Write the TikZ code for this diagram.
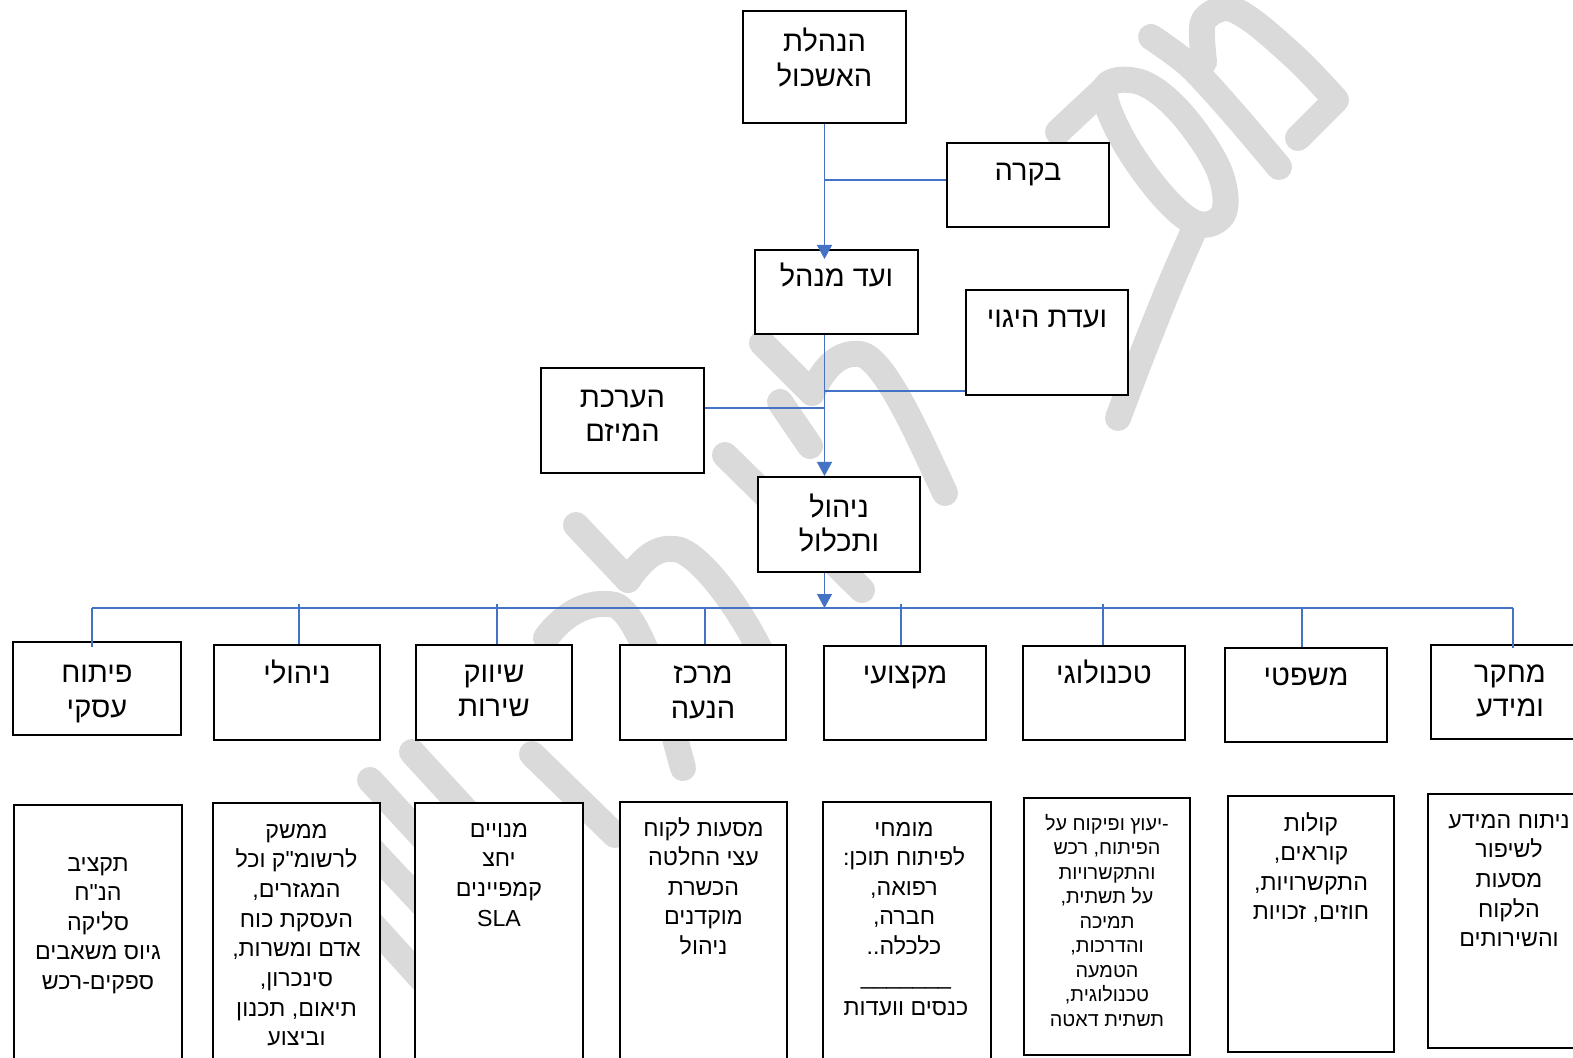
\documentclass[tikz,border=0pt]{standalone}
\usepackage{fontspec}
\newfontfamily\heb[Script=Hebrew]{Liberation Sans}
\TeXXeTstate=1
\usetikzlibrary{arrows.meta,calc}
\definecolor{conn}{RGB}{68,114,196}
\definecolor{wmgray}{RGB}{218,218,218}
\tikzset{
  box/.style={draw=black, line width=1pt, fill=white, inner sep=0pt},
  lbl/.style={font={\heb\fontsize{14.5}{17}\selectfont}, anchor=base, inner sep=0pt},
  sml/.style={font={\heb\fontsize{11.6}{14}\selectfont}, anchor=base, inner sep=0pt},
  tny/.style={font={\heb\fontsize{9.9}{12}\selectfont}, anchor=base, inner sep=0pt},
  wire/.style={draw=conn, line width=0.6pt},
  arr/.style={wire, -{Triangle[width=7.5pt,length=7pt]}},
  wm/.style={draw=wmgray, line width=13pt, line cap=round, line join=round},
}
\newcommand\obox[5]{\node[box, minimum width={(#4-#2)*0.5pt}, minimum height={(#5-#3)*0.5pt}] (#1) at ({(#2+#4)/2},{(#3+#5)/2}) {};}
\newcommand\htext[6][lbl]{\foreach \ln [count=\i from 0] in {#6} {\node[#1] (#2\i) at ({#3},{#4+\i*#5}) {\ln};}}
\begin{document}
\begin{tikzpicture}[x=0.5pt,y=-0.5pt]
\useasboundingbox (0,0) rectangle (1573,1058);
\clip (0,0) rectangle (1573,1058);
\fill[white] (0,0) rectangle (1573,1058);
% watermark (behind everything)
\draw[wm] plot[smooth, tension=0.5] coordinates {(1151,37) (1190,66) (1235,115) (1279,167)};
\draw[wm] plot[smooth, tension=0.5] coordinates {(1204,62) (1203,22) (1226,8) (1254,22) (1300,62) (1336,100)} -- (1298,138);
\draw[wm] plot[smooth cycle, tension=0.6] coordinates {(1105,88) (1140,82) (1180,112) (1218,168) (1224,212) (1198,224) (1162,195) (1122,138)};
\draw[wm] (1058,132) -- (1105,88);
\draw[wm] plot[smooth, tension=0.5] coordinates {(1195,228) (1170,285) (1140,360) (1118,418)};
\draw[wm] (762,343) -- (812,393) .. controls (825,365) and (840,352) .. (860,354) .. controls (885,358) and (920,440) .. (945,493);
\draw[wm] (780,402) -- (810,446);
\draw[wm] (725,455) -- (862,590);
\draw[wm] (576,525) -- (628,580) .. controls (645,555) and (660,545) .. (680,550) .. controls (705,560) and (740,610) .. (760,650);
\draw[wm] (546,638) .. controls (565,612) and (590,600) .. (615,605) .. controls (640,615) and (665,700) .. (683,768);
\draw[wm] (412,752) -- (470,815);
\draw[wm] (532,754) -- (615,835);
\draw[wm] (370,780) -- (430,845);
\draw[wm] (370,848) -- (430,912);
\draw[wm] (370,922) -- (430,988);
% boxes
\obox{hn}{743}{11}{906}{123}
\obox{bk}{947}{143}{1109}{227}
\obox{vm}{755}{250}{918}{334}
\obox{vh}{966}{290}{1128}{395}
\obox{hm}{541}{368}{704}{473}
\obox{nt}{758}{477}{920}{572}
\obox{m1}{13}{642}{181}{735}
\obox{m2}{214}{645}{380}{740}
\obox{m3}{416}{645}{572}{740}
\obox{m4}{620}{645}{786}{740}
\obox{m5}{824}{646}{986}{740}
\obox{m6}{1023}{646}{1185}{740}
\obox{m7}{1225}{648}{1387}{742}
\obox{m8}{1431}{645}{1610}{739}
\obox{b1}{14}{805}{182}{1080}
\obox{b2}{213}{803}{380}{1080}
\obox{b3}{415}{803}{583}{1080}
\obox{b4}{620}{802}{787}{1080}
\obox{b5}{823}{802}{991}{1080}
\obox{b6}{1024}{798}{1190}{1055}
\obox{b7}{1228}{796}{1394}{1052}
\obox{b8}{1428}{794}{1610}{1048}
% texts
\htext{thn}{824.5}{52}{35}{\beginR הנהלת\endR,\beginR האשכול\endR}
\htext{tbk}{1028}{181}{35}{\beginR בקרה\endR}
\htext{tvm}{836.5}{287}{35}{\beginR ועד מנהל\endR}
\htext{tvh}{1047}{328}{35}{\beginR ועדת היגוי\endR}
\htext{thm}{622.5}{408}{34}{\beginR הערכת\endR,\beginR המיזם\endR}
\htext{tnt}{839}{517}{35}{\beginR ניהול\endR,\beginR ותכלול\endR}
\htext{tm1}{97}{682}{35}{\beginR פיתוח\endR,\beginR עסקי\endR}
\htext{tm2}{297}{683}{35}{\beginR ניהולי\endR}
\htext{tm3}{494}{682}{34}{\beginR שיווק\endR,\beginR שירות\endR}
\htext{tm4}{703}{683}{35}{\beginR מרכז\endR,\beginR הנעה\endR}
\htext{tm5}{905}{683}{35}{\beginR מקצועי\endR}
\htext{tm6}{1104}{683}{35}{\beginR טכנולוגי\endR}
\htext{tm7}{1306}{685}{35}{\beginR משפטי\endR}
\htext{tm8}{1510}{682}{34}{\beginR מחקר\endR,\beginR ומידע\endR}
\htext[sml]{tb1}{98}{871}{29.5}{\beginR תקציב\endR,\beginR הנ"ח\endR,\beginR סליקה\endR,\beginR גיוס משאבים\endR,\beginR ספקים-רכש\endR}
\htext[sml]{tb2}{296.5}{838}{29.7}{\beginR ממשק\endR,\beginR לרשומ"ק וכל\endR,{\beginR המגזרים,\endR},\beginR העסקת כוח\endR,{\beginR אדם ומשרות,\endR},{\beginR סינכרון,\endR},{\beginR תיאום, תכנון\endR},\beginR וביצוע\endR}
\htext[sml]{tb3}{499}{837}{29.7}{\beginR מנויים\endR,\beginR יחצ\endR,\beginR קמפיינים\endR,SLA}
\htext[sml]{tb4}{703.5}{836}{29.5}{\beginR מסעות לקוח\endR,\beginR עצי החלטה\endR,\beginR הכשרת\endR,\beginR מוקדנים\endR,\beginR ניהול\endR}
\htext[sml]{tb5}{904}{836}{29.5}{\beginR מומחי\endR,\beginR לפיתוח תוכן:\endR,{\beginR רפואה,\endR},{\beginR חברה,\endR},\beginR כלכלה..\endR}
\node[sml] (tb5u) at (906,984) {\_\_\_\_\_\_\_};
\node[sml] (tb5k) at (906,1015) {\beginR כנסים וועדות\endR};
\htext[tny]{tb6}{1107}{830}{24.5}{\beginR -יעוץ ופיקוח על\endR,{\beginR הפיתוח, רכש\endR},\beginR והתקשרויות\endR,{\beginR על תשתית,\endR},\beginR תמיכה\endR,{\beginR והדרכות,\endR},\beginR הטמעה\endR,{\beginR טכנולוגית,\endR},\beginR תשתית דאטה\endR}
\htext[sml]{tb7}{1311}{831}{29.5}{\beginR קולות\endR,{\beginR קוראים,\endR},{\beginR התקשרויות,\endR},{\beginR חוזים, זכויות\endR}}
\htext[sml]{tb8}{1509}{828}{29.7}{\beginR ניתוח המידע\endR,\beginR לשיפור\endR,\beginR מסעות\endR,\beginR הלקוח\endR,\beginR והשירותים\endR}
% connectors
\coordinate (spine) at (824.5,0);
\draw[arr] (hn.south) -- ($(spine |- vm.north)+(0,10)$);
\draw[wire] ($(bk.west)+(0,-5)$) -- (spine |- {$(bk.west)+(0,-5)$});
\draw[arr] (spine |- vm.south) -- (spine |- nt.north);
\draw[wire] ($(vh.south west)+(0,-5)$) -- (spine |- {$(vh.south west)+(0,-5)$});
\draw[wire] ($(hm.east)+(0,-12.5)$) -- (spine |- {$(hm.east)+(0,-12.5)$});
\coordinate (busL) at (92,608);
\coordinate (busR) at (1513,608);
\draw[arr] (spine |- nt.south) -- (spine |- busL);
\draw[wire] (busL) -- (busR);
\coordinate (d1) at (92,608);
\coordinate (d2) at (299,604);
\coordinate (d3) at (497,604);
\coordinate (d4) at (705,608);
\coordinate (d5) at (901,604);
\coordinate (d6) at (1103,604);
\coordinate (d7) at (1302,608);
\coordinate (d8) at (1513,608);
\draw[wire] (d1) -- (d1 |- m1.north) -- ++(0,6);
\draw[wire] (d2) -- (d2 |- m2.north);
\draw[wire] (d3) -- (d3 |- m3.north);
\draw[wire] (d4) -- (d4 |- m4.north);
\draw[wire] (d5) -- (d5 |- m5.north);
\draw[wire] (d6) -- (d6 |- m6.north);
\draw[wire] (d7) -- (d7 |- m7.north);
\draw[wire] (d8) -- (d8 |- m8.north) -- ++(0,4);
\end{tikzpicture}
\end{document}
